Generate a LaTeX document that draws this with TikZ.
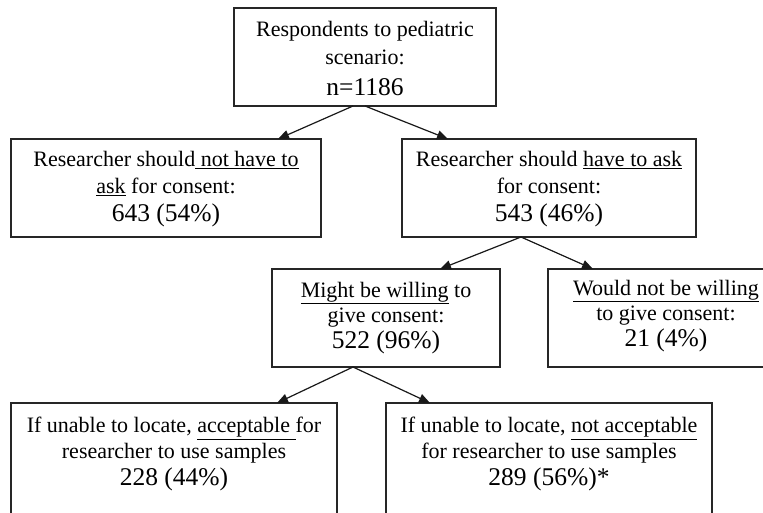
\documentclass[tikz,border=0pt]{standalone}
\usepackage{fontspec}
\setmainfont{Liberation Serif}
\usetikzlibrary{arrows.meta,calc}
\newcommand{\numtxt}[1]{{\fontsize{25.5}{27}\selectfont #1}}
\begin{document}
\begin{tikzpicture}[x=1pt,y=-1pt]
\tikzset{
 frame/.style={draw=black!85,line width=1.2pt,inner sep=0pt,outer sep=0pt},
 txt/.style={align=center,inner sep=0pt,anchor=north,font=\fontsize{22}{27.5}\selectfont},
 txtlg/.style={txt,font=\fontsize{22}{28.5}\selectfont},
 txtsm/.style={txt,font=\fontsize{22}{25.5}\selectfont},
 link/.style={line width=1.2pt,draw=black!90,-{Triangle[length=11pt,width=9pt]}},
}
\useasboundingbox[fill=white] (0,0) rectangle (763,512);
\node[frame,minimum width=262pt,minimum height=98pt] (A) at (365,57) {};
\node[frame,minimum width=310pt,minimum height=98pt] (B) at (166,188) {};
\node[frame,minimum width=294pt,minimum height=98pt] (C) at (549,188) {};
\node[frame,minimum width=228pt,minimum height=98pt] (D) at (386,318) {};
\node[frame,minimum width=236pt,minimum height=98pt] (E) at (666,318) {};
\node[frame,minimum width=326pt,minimum height=128pt] (F) at (174,467) {};
\node[frame,minimum width=326pt,minimum height=128pt] (G) at (549,467) {};

\node[txtlg] (tA) at ([yshift=-13pt]A.north) {Respondents to pediatric\\scenario:\\[2.5pt]\numtxt{n=1186}};
\node[txt] (tB) at ([yshift=-12pt]B.north) {Researcher should\underline{ not have to}\\\underline{ask} for consent:\\\numtxt{643 (54\%)}};
\node[txt] (tC) at ([yshift=-12pt]C.north) {Researcher should \underline{have to ask}\\for consent:\\\numtxt{543 (46\%)}};
\node[txtsm] (tD) at ([yshift=-13pt]D.north) {\underline{Might be willing} to\\give consent:\\\numtxt{522 (96\%)}};
\node[txtsm] (tE) at ([yshift=-11pt]E.north) {\underline{Would not be willing}\\to give consent:\\\numtxt{21 (4\%)}};
\node[txtsm] (tF) at ([yshift=-14pt]F.north) {If unable to locate, \underline{acceptable }for\\researcher to use samples\\[2pt]\numtxt{228 (44\%)}};
\node[txtsm] (tG) at ([yshift=-14pt]G.north) {If unable to locate, \underline{not acceptable}\\for researcher to use samples\\[2pt]\numtxt{289 (56\%)*}};

\draw[link] ([xshift=-12pt]A.south) -- ([xshift=112pt]B.north);
\draw[link] (A.south) -- ([xshift=-101pt]C.north);
\draw[link] ([xshift=-28pt]C.south) -- ([xshift=54pt]D.north);
\draw[link] ([xshift=-28pt]C.south) -- ([xshift=-73pt]E.north);
\draw[link] ([xshift=-33pt]D.south) -- ([xshift=103pt]F.north);
\draw[link] ([xshift=-33pt]D.south) -- ([xshift=-119pt]G.north);
\end{tikzpicture}
\end{document}
